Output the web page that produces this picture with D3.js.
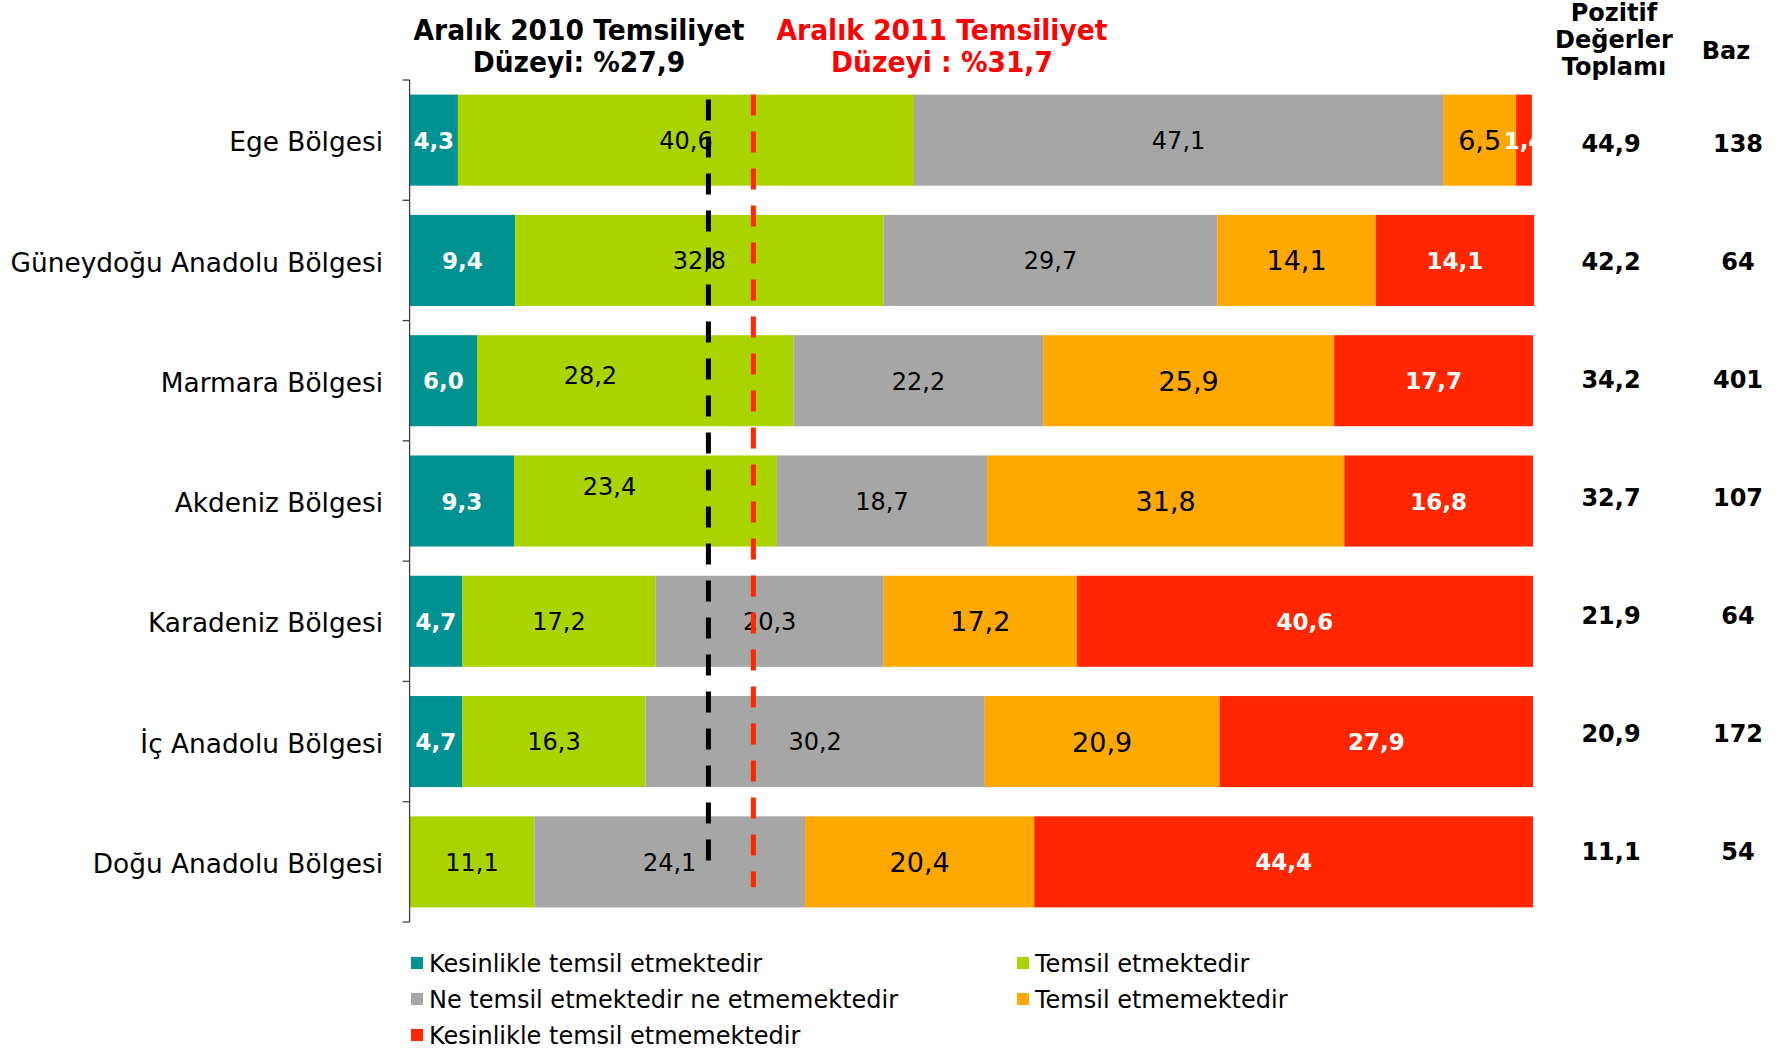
<!DOCTYPE html>
<html><head><meta charset="utf-8">
<script src="https://cdn.jsdelivr.net/npm/d3@7"></script>
<style>body{margin:0;background:#fff} svg{display:block}</style>
</head><body><svg id="chart" width="1779" height="1050"></svg>
<script>
// ---------- data ----------
const regions = ["Ege Bölgesi","Güneydoğu Anadolu Bölgesi","Marmara Bölgesi","Akdeniz Bölgesi","Karadeniz Bölgesi","İç Anadolu Bölgesi","Doğu Anadolu Bölgesi"];
const seriesNames = ["Kesinlikle temsil etmektedir","Temsil etmektedir","Ne temsil etmektedir ne etmemektedir","Temsil etmemektedir","Kesinlikle temsil etmemektedir"];
const kesinlikleTemsil  = [4.3, 9.4, 6.0, 9.3, 4.7, 4.7, 0];
const temsil            = [40.6, 32.8, 28.2, 23.4, 17.2, 16.3, 11.1];
const neTemsilNeEtmemek = [47.1, 29.7, 22.2, 18.7, 20.3, 30.2, 24.1];
const temsilEtmemek     = [6.5, 14.1, 25.9, 31.8, 17.2, 20.9, 20.4];
const kesinlikleEtmemek = [1.4, 14.1, 17.7, 16.8, 40.6, 27.9, 44.4];
const pozitifToplam = [44.9, 42.2, 34.2, 32.7, 21.9, 20.9, 11.1];
const baz = [138, 64, 401, 107, 64, 172, 54];
const refLines = [{key:"2010", value:26.6}, {key:"2011", value:30.6}];
const title2010 = ["Aralık 2010 Temsiliyet", "Düzeyi: %27,9"];
const title2011 = ["Aralık 2011 Temsiliyet", "Düzeyi : %31,7"];
const colHeaders = {pozitif:["Pozitif","Değerler","Toplamı"], baz:["Baz"]};

// ---------- setup ----------
const seriesValues = [kesinlikleTemsil, temsil, neTemsilNeEtmemek, temsilEtmemek, kesinlikleEtmemek];
const keys = ["k1","k2","k3","k4","k5"];
const colors = {k1:"#009191", k2:"#AAD400", k3:"#A6A6A6", k4:"#FFA800", k5:"#FF2600"};
const labelStyle = {
  k1:{fill:"#fff", weight:"bold", size:23},
  k2:{fill:"#000", weight:"normal", size:24},
  k3:{fill:"#000", weight:"normal", size:24},
  k4:{fill:"#000", weight:"normal", size:27},
  k5:{fill:"#fff", weight:"bold", size:23}
};
const labelNudge = {"Marmara Bölgesi|k2": [-45, -6], "Akdeniz Bölgesi|k2": [-36, -15]};

const table = regions.map((r,i)=>{
  const o = {region:r};
  keys.forEach((k,j)=>o[k]=seriesValues[j][i]);
  return o;
});
const stack = d3.stack().keys(keys)(table);

const fmt = d3.formatLocale({decimal:",", thousands:".", grouping:[3], currency:["",""]}).format(".1f");

const svg = d3.select("#chart");
const FONT = "'DejaVu Sans', Verdana, sans-serif";

const x = d3.scaleLinear().domain([0,100]).range([409.6, 1533]);
const y = d3.scaleBand().domain(regions).range([80, 922]).paddingInner(0.243).paddingOuter(0.1215);

svg.append("defs").append("clipPath").attr("id","plotclip")
  .append("rect").attr("x", x(0)).attr("y", 0).attr("width", x(100)-x(0)).attr("height", 1050);

// bars
const g = svg.append("g");
g.selectAll("g.series").data(stack).join("g").attr("class","series")
  .attr("fill", d=>colors[d.key])
  .selectAll("rect").data(d=>d).join("rect")
  .attr("x", d=>x(d[0]))
  .attr("y", d=>y(d.data.region))
  .attr("width", d=>Math.max(0, x(d[1])-x(d[0])))
  .attr("height", y.bandwidth());

// axis line + ticks
const axisG = svg.append("g").attr("stroke","#404040").attr("stroke-width",1.3);
axisG.append("line").attr("x1", x(0)).attr("x2", x(0)).attr("y1", y.range()[0]).attr("y2", y.range()[1]);
const bounds = d3.range(regions.length+1).map(i => y.range()[0] + i*y.step());
axisG.selectAll("line.tick").data(bounds).join("line").attr("class","tick")
  .attr("x1", x(0)-7).attr("x2", x(0)).attr("y1", d=>d).attr("y2", d=>d);

// category labels
svg.append("g").selectAll("text").data(regions).join("text")
  .attr("x", 383).attr("y", d=>y(d)+y.bandwidth()/2).attr("dy","0.42em")
  .attr("text-anchor","end").attr("font-family",FONT).attr("font-size",26.4).attr("fill","#000")
  .text(d=>d);

// value labels
const lab = svg.append("g").attr("clip-path","url(#plotclip)");
stack.forEach(s=>{
  const st = labelStyle[s.key];
  const nud = d => labelNudge[d.data.region+"|"+s.key] || [0,0];
  lab.selectAll(null).data(s.filter(d=>d[1]-d[0]>0)).join("text")
    .attr("x", d=>(x(d[0])+x(d[1]))/2 + nud(d)[0])
    .attr("y", d=>y(d.data.region)+y.bandwidth()/2 + nud(d)[1])
    .attr("dy","0.37em")
    .attr("text-anchor","middle").attr("font-family",FONT)
    .attr("font-size",st.size).attr("font-weight",st.weight).attr("fill",st.fill)
    .text(d=>fmt(d[1]-d[0]));
});

// reference dashed lines
const first = y(regions[0]), last = y(regions[regions.length-1]);
const lineStyle = {
  "2010":{color:"#000", y1:first+5, y2:last+y.bandwidth()*0.6},
  "2011":{color:"#FF2600", y1:first, y2:last+y.bandwidth()*0.78}
};
svg.append("g").selectAll("line").data(refLines).join("line")
  .attr("x1", d=>x(d.value)).attr("x2", d=>x(d.value))
  .attr("y1", d=>lineStyle[d.key].y1).attr("y2", d=>lineStyle[d.key].y2)
  .attr("stroke", d=>lineStyle[d.key].color).attr("stroke-width",5)
  .attr("stroke-dasharray","21,16");

// titles
function title(lines, cx, color){
  const t = svg.append("g").attr("fill",color).attr("font-family",FONT).attr("font-weight","bold").attr("font-size",29);
  lines.forEach((L,i)=>{
    t.append("text").attr("transform",`translate(${cx},${40+i*31.5}) scale(0.915,1)`)
      .attr("text-anchor","middle").text(L);
  });
}
title(title2010, 579, "#000");
title(title2011, 942, "#FF0000");

// right columns
const yR = d3.scalePoint().domain(regions).range([142.5, 851]);
const right = svg.append("g").attr("font-family",FONT).attr("font-weight","bold").attr("font-size",24).attr("fill","#000").attr("text-anchor","middle");
colHeaders.pozitif.forEach((h,i)=>right.append("text").attr("x",1614).attr("y",21+i*27).text(h));
colHeaders.baz.forEach(h=>right.append("text").attr("x",1726).attr("y",59).text(h));
right.selectAll("text.poz").data(regions).join("text").attr("class","poz")
  .attr("x",1611).attr("y",d=>yR(d)+9).text((d,i)=>fmt(pozitifToplam[i]));
right.selectAll("text.baz").data(regions).join("text").attr("class","baz")
  .attr("x",1738).attr("y",d=>yR(d)+9).text((d,i)=>baz[i]);

// legend
const legPos = [[411,963],[1017,963],[411,999],[1017,999],[411,1035]];
const leg = svg.append("g").attr("font-family",FONT).attr("font-size",24);
seriesNames.forEach((n,i)=>{
  const [lx,ly] = legPos[i];
  leg.append("rect").attr("x",lx).attr("y",ly-6).attr("width",12).attr("height",12).attr("fill",colors[keys[i]]);
  leg.append("text").attr("x",lx+18).attr("y",ly).attr("dy","0.36em").attr("fill","#000").text(n);
});
</script>
</body></html>
